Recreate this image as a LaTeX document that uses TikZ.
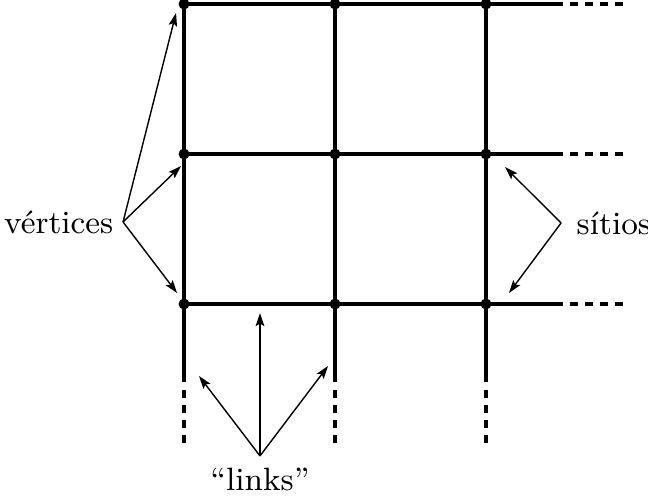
\documentclass[tikz,border=0pt]{standalone}
\usepackage{tikz}
\usetikzlibrary{arrows.meta,positioning}
\tikzset{
  rede/.style={line width=0.9pt},
  redepont/.style={line width=0.9pt, dash pattern=on 2.3pt off 1.95pt},
  vertice/.style={circle, fill=black, inner sep=0pt, minimum size=1.1mm},
  seta/.style={-{Stealth[length=1.3mm, width=0.85mm, inset=0.25mm]}, line width=0.4pt},
  setagrossa/.style={-{Stealth[length=1.3mm, width=0.85mm, inset=0.25mm]}, line width=0.65pt},
  rotulo/.style={inner sep=0pt, font=\fontsize{9.2}{11}\selectfont}
}

\begin{document}
\begin{tikzpicture}[x=1.51cm, y=1.5cm]
  \useasboundingbox (-1.219,-1.293) rectangle (3.073,2.027);
  % --- Vertices da rede ---
  \def\xS{2.51}     % fim do trecho cheio (horizontal)
  \def\yS{-0.52}    % fim do trecho cheio (vertical)
  \foreach \i in {0,1,2} \foreach \j in {0,1,2} \coordinate (v\i\j) at (\i,\j);

  % --- Links ---
  \foreach \j in {0,1,2} {
    \coordinate (h\j) at (\xS,\j);
    \coordinate (ha\j) at (2.556,\j);
    \coordinate (hb\j) at (2.907,\j);
    \draw[rede] (v0\j) -- (h\j);
    \draw[redepont] (ha\j) -- (hb\j);
  }
  \foreach \i in {0,1,2} {
    \coordinate (c\i) at (\i,\yS);
    \coordinate (ca\i) at (\i,-0.573);
    \coordinate (cb\i) at (\i,-0.927);
    \draw[rede] (v\i2) -- (c\i);
    \draw[redepont] (ca\i) -- (cb\i);
  }
  \foreach \i in {0,1,2} \foreach \j in {0,1,2} \node[vertice] (p\i\j) at (v\i\j) {};

  % --- Rotulos ---
  \coordinate (vo) at (-0.404,0.547);
  \node[rotulo, left=0.9mm of vo] (vert) {v\'ertices};
  \coordinate (so) at (2.497,0.54);
  \node[rotulo, right=1.5mm of so] (sit) {s\'{\i}tios};
  \coordinate (lo) at (0.503,-1.013);
  \node[rotulo, below=1.1mm of lo] (lnk) {``links''};

  % --- Setas ---
  \coordinate (t1) at (-0.053,1.94);
  \coordinate (t2) at (-0.02,0.92);
  \coordinate (t3) at (-0.046,0.073);
  \foreach \t in {t1,t2,t3} \draw[seta] (vo) -- (\t);
  \coordinate (s1) at (2.126,0.913);
  \coordinate (s2) at (2.152,0.073);
  \foreach \t in {s1,s2} \draw[seta] (so) -- (\t);
  \coordinate (l1) at (0.503,-0.06);
  \coordinate (l2) at (0.099,-0.48);
  \coordinate (l3) at (0.954,-0.413);
  \draw[setagrossa] (lo) -- (l1);
  \foreach \t in {l2,l3} \draw[seta] (lo) -- (\t);
\end{tikzpicture}
\end{document}
